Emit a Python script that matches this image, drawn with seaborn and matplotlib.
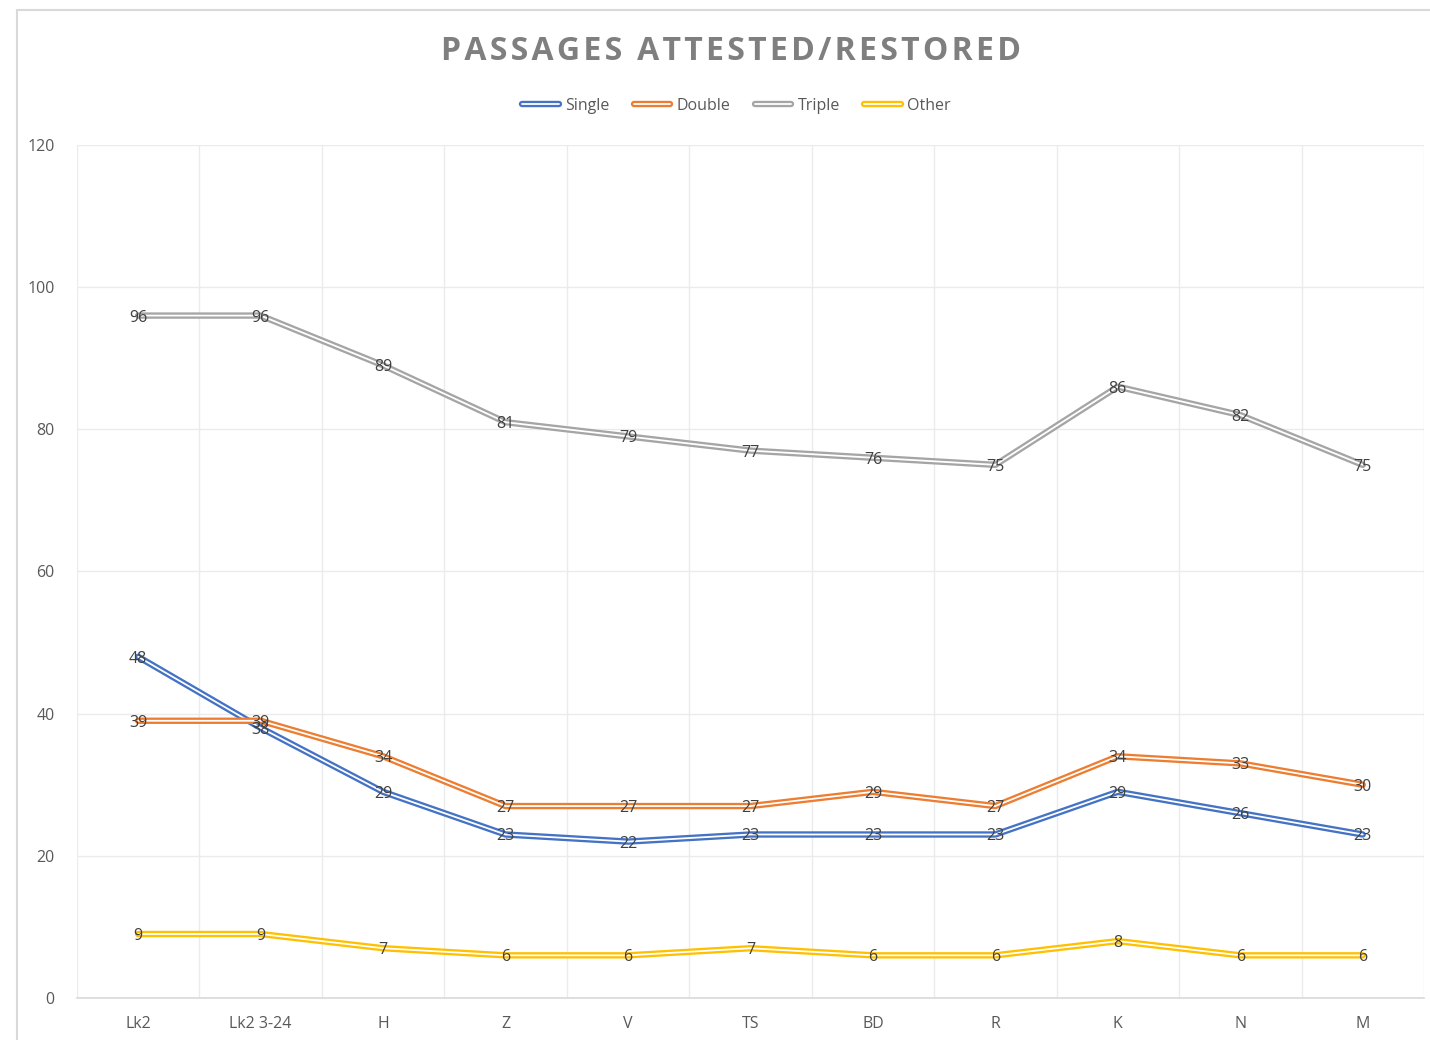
import numpy as np
import pandas as pd
import matplotlib
matplotlib.use('Agg')
import matplotlib.pyplot as plt
import matplotlib.patheffects as pe
import matplotlib.transforms as mtransforms
from matplotlib.lines import Line2D
from matplotlib.patches import Rectangle
import seaborn as sns

sns.set_style('white')
plt.rcParams['font.family'] = ['Open Sans', 'DejaVu Sans']

categories = ['Lk2', 'Lk2 3-24', 'H', 'Z', 'V', 'TS', 'BD', 'R', 'K', 'N', 'M']
single = [48, 38, 29, 23, 22, 23, 23, 23, 29, 26, 23]
double = [39, 39, 34, 27, 27, 27, 29, 27, 34, 33, 30]
triple = [96, 96, 89, 81, 79, 77, 76, 75, 86, 82, 75]
other = [9, 9, 7, 6, 6, 7, 6, 6, 8, 6, 6]

series_names = ['Single', 'Double', 'Triple', 'Other']
series_colors = ['#4472C4', '#ED7D31', '#A5A5A5', '#FFC000']

df = pd.DataFrame({'Category': categories, 'Single': single, 'Double': double,
                   'Triple': triple, 'Other': other})
long = df.melt(id_vars='Category', var_name='Series', value_name='Value')
long['x'] = long['Category'].map({c: i for i, c in enumerate(categories)})

fig = plt.figure(figsize=(14.3, 10.4), dpi=100)
ax = fig.add_axes([0.0538, 0.0404, 0.9420, 0.8202])

grid_c = '#EBEBEB'
label_c = '#404040'
tick_c = '#595959'
outer_lw, inner_lw = 4.6, 1.3

# labels sit a hair below the point, like Excel's centred labels
lbl_trans = mtransforms.offset_copy(ax.transData, fig=fig, x=0, y=-2, units='dots')

# double-line look: thick coloured stroke with a thin white core
for name, col in zip(series_names, series_colors):
    sub = long[long['Series'] == name]
    sns.lineplot(data=sub, x='x', y='Value', ax=ax, color='white', linewidth=inner_lw,
                 path_effects=[pe.Stroke(linewidth=outer_lw, foreground=col), pe.Normal()],
                 zorder=3, legend=False)
    for xi, v in zip(sub['x'], sub['Value']):
        ax.text(xi, v, f'{v}', ha='center', va='center', fontsize=11.5,
                color=label_c, zorder=4, transform=lbl_trans)

ax.set_xlim(-0.5, len(categories) - 0.5)
ax.set_ylim(0, 120)
ax.set_yticks(np.arange(0, 121, 20))
ax.set_xticks(range(len(categories)))
ax.set_xticklabels(categories)
ax.set_xticks(np.arange(-0.5, len(categories), 1), minor=True)
ax.set_xlabel('')
ax.set_ylabel('')

ax.grid(axis='y', which='major', color=grid_c, linewidth=1)
ax.grid(axis='x', which='minor', color=grid_c, linewidth=1)
ax.grid(axis='x', which='major', visible=False)
ax.set_axisbelow(True)

for s in ['top', 'right', 'left']:
    ax.spines[s].set_visible(False)
ax.spines['bottom'].set_color('#D9D9D9')
ax.spines['bottom'].set_linewidth(1.2)

ax.tick_params(axis='x', which='major', length=0, pad=13, labelsize=11.5, labelcolor=tick_c)
ax.tick_params(axis='x', which='minor', length=6, width=1, color='#D9D9D9', direction='out')
ax.tick_params(axis='y', which='major', length=6, width=1, color=grid_c, pad=10,
               labelsize=11.5, labelcolor=tick_c)

# wide letter spacing like the original title
title = 'PASSAGES ATTESTED/RESTORED'
spaced = '\u200a'.join(title)
fig.text(0.511, 0.9505, spaced, ha='center', va='center',
         fontsize=23, fontweight='bold', color='#7F7F7F')

handles = [Line2D([0], [0], color='white', linewidth=inner_lw,
                  path_effects=[pe.Stroke(linewidth=outer_lw, foreground=c), pe.Normal()])
           for c in series_colors]
fig.legend(handles, series_names, loc='center', bbox_to_anchor=(0.515, 0.898),
           ncol=4, frameon=False, fontsize=11.5, labelcolor=tick_c,
           handlelength=2.3, handletextpad=0.4, columnspacing=1.5)

# chart frame (top and left edges visible in the reference)
fig.patches.append(Rectangle((17 / 1430, -0.1), 1.2, 1 - 10 / 1040 + 0.1,
                             transform=fig.transFigure, fill=False,
                             edgecolor='#D9D9D9', linewidth=1.5))

fig.savefig('out.png', dpi=100, facecolor='white')
